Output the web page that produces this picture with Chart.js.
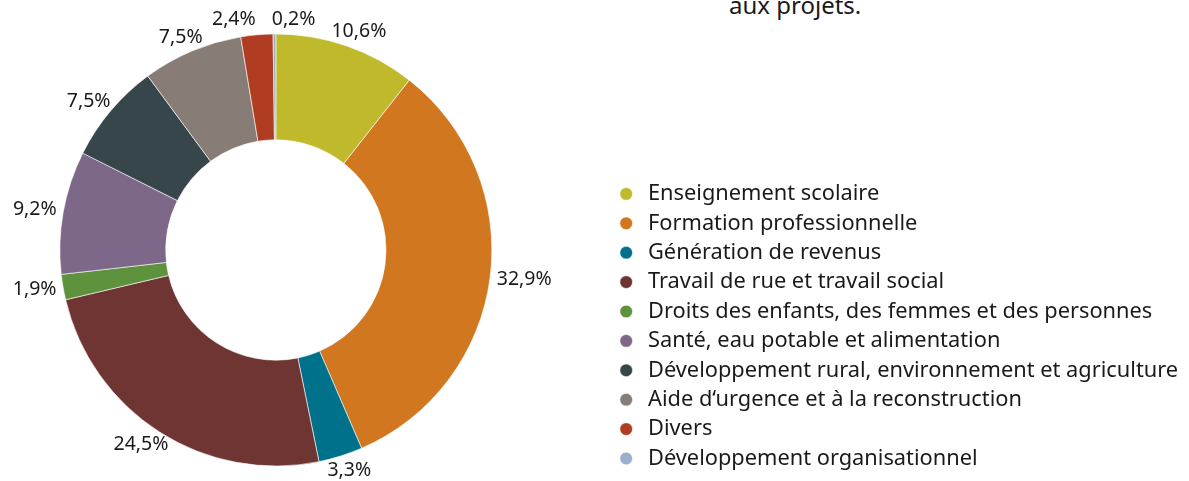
<!DOCTYPE html>
<html>
<head>
<meta charset="utf-8">
<script src="https://cdn.jsdelivr.net/npm/chart.js@4"></script>
<style>
  html, body { margin: 0; padding: 0; background: #fff; overflow: hidden; }
  .wrap { position: relative; width: 1189px; height: 481px; overflow: hidden; }
  .intro {
    position: absolute; left: 729px; top: -7px;
    font-family: "Noto Sans", sans-serif; font-size: 24px; line-height: 24px;
    color: #1a1a1a; white-space: nowrap;
  }
  canvas { position: absolute; top: 0; }
</style>
</head>
<body>
<div class="wrap">
  <div class="intro">aux projets.</div>
  <canvas id="donut"></canvas>
</div>
<script>
// Categories and shares (percent)
const categories = [
  'Enseignement scolaire',
  'Formation professionnelle',
  'Génération de revenus',
  'Travail de rue et travail social',
  'Droits des enfants, des femmes et des personnes',
  'Santé, eau potable et alimentation',
  'Développement rural, environnement et agriculture',
  'Aide d‘urgence et à la reconstruction',
  'Divers',
  'Développement organisationnel'
];
const shares = [10.6, 32.9, 3.3, 24.5, 1.9, 9.2, 7.5, 7.5, 2.4, 0.2];
const sliceColors = [
  '#bfb92b', '#d0771f', '#00718a', '#6e3533', '#5e923c',
  '#7d6889', '#36464b', '#877d76', '#b03d22', '#9aafcb'
];

const FONT = '"Noto Sans", sans-serif';
const TEXT_COLOR = '#1a1a1a';
const LEGEND_SIZE = 21.8;
const LABEL_SIZE = 19.5;

// Percentage labels outside each slice, pushed apart when they collide
const outsideLabels = {
  id: 'outsideLabels',
  afterDatasetsDraw(chart) {
    const ctx = chart.ctx;
    const meta = chart.getDatasetMeta(0);
    ctx.save();
    ctx.font = LABEL_SIZE + 'px ' + FONT;
    ctx.fillStyle = TEXT_COLOR;
    ctx.textAlign = 'center';
    ctx.textBaseline = 'middle';
    const h = 16;
    const boxes = meta.data.map((arc, i) => {
      const p = arc.getProps(['x', 'y', 'startAngle', 'endAngle', 'outerRadius'], true);
      const mid = (p.startAngle + p.endAngle) / 2;
      const text = shares[i].toFixed(1).replace('.', ',') + '%';
      const w = ctx.measureText(text).width;
      const r = p.outerRadius + 7;
      return {
        text, w,
        x: p.x + Math.cos(mid) * (r + w / 2),
        y: p.y + Math.sin(mid) * (r + h / 2)
      };
    });
    const gap = 16;
    for (let pass = 0; pass < 10; pass++) {
      for (let i = 0; i < boxes.length; i++) {
        for (let j = i + 1; j < boxes.length; j++) {
          const a = boxes[i], b = boxes[j];
          if (Math.abs(a.y - b.y) >= h) continue;
          const need = (a.w + b.w) / 2 + gap - Math.abs(a.x - b.x);
          if (need <= 0) continue;
          const dir = b.x >= a.x ? 1 : -1;
          a.x -= dir * need / 2;
          b.x += dir * need / 2;
        }
      }
    }
    boxes.forEach(b => ctx.fillText(b.text, b.x, b.y));
    ctx.restore();
  }
};

// Layout: legend text column starts at x=648, ring centre at x=276.
// The canvas is widened and moved left so the chart area can centre the ring there.
const measure = document.createElement('canvas').getContext('2d');
measure.font = LEGEND_SIZE + 'px ' + FONT;
const longest = Math.max(...categories.map(c => measure.measureText(c).width));
const legendPad = 29.4 - LEGEND_SIZE;
const textStart = 648;
const legendLeft = textStart - legendPad - LEGEND_SIZE - LEGEND_SIZE / 2;
const shift = Math.max(0, Math.round(legendLeft - 2 * 276));
const canvas = document.getElementById('donut');
canvas.width = 1189 + shift;
canvas.height = 481;
canvas.style.left = (-shift) + 'px';
const padRight = canvas.width - (textStart + shift) - longest - 10;

new Chart(canvas, {
  type: 'doughnut',
  data: {
    labels: categories,
    datasets: [{
      data: shares,
      backgroundColor: sliceColors,
      borderColor: '#ffffff',
      borderWidth: 0.6,
      radius: 216,
      cutout: '51%'
    }]
  },
  options: {
    responsive: false,
    animation: false,
    layout: { padding: { left: 0, right: padRight, top: 23, bottom: 4 } },
    plugins: {
      legend: {
        position: 'right',
        align: 'end',
        labels: {
          usePointStyle: true,
          pointStyle: 'circle',
          boxWidth: LEGEND_SIZE,
          boxHeight: 9,
          padding: legendPad,
          color: TEXT_COLOR,
          font: { family: FONT, size: LEGEND_SIZE }
        }
      },
      tooltip: { enabled: false }
    }
  },
  plugins: [outsideLabels]
});
</script>
</body>
</html>
